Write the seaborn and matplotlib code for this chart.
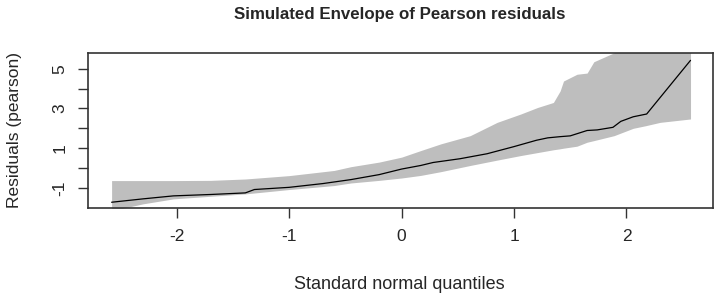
import numpy as np
import pandas as pd
import seaborn as sns
import matplotlib.pyplot as plt

# observed Pearson residuals (sorted) against normal quantiles
line_q = [-2.58, -2.30, -2.03, -1.70, -1.39, -1.31, -1.00, -0.70, -0.45, -0.20,
          0.00, 0.17, 0.28, 0.52, 0.76, 1.00, 1.20, 1.30, 1.41, 1.50, 1.65, 1.74,
          1.88, 1.95, 2.06, 2.18, 2.57]
resid = [-1.72, -1.55, -1.40, -1.33, -1.25, -1.08, -0.97, -0.78, -0.58, -0.33,
         -0.05, 0.13, 0.28, 0.47, 0.72, 1.08, 1.40, 1.52, 1.58, 1.62, 1.89, 1.92,
         2.05, 2.35, 2.58, 2.72, 5.42]

# simulated envelope
band_q = [-2.58, -2.30, -2.03, -1.70, -1.39, -1.00, -0.60, -0.45, -0.20, 0.00,
          0.17, 0.35, 0.61, 0.85, 1.06, 1.21, 1.35, 1.41, 1.44, 1.56, 1.65,
          1.71, 1.89, 2.06, 2.17, 2.30, 2.57]
upper = [-0.63, -0.63, -0.63, -0.62, -0.55, -0.38, -0.12, 0.07, 0.30, 0.55,
         0.88, 1.22, 1.63, 2.30, 2.72, 3.05, 3.30, 3.88, 4.38, 4.72, 4.78,
         5.35, 5.80, 6.60, 7.20, 8.00, 9.00]
lower = [-2.15, -1.80, -1.55, -1.42, -1.30, -1.08, -0.88, -0.75, -0.62, -0.50,
         -0.37, -0.18, 0.13, 0.40, 0.63, 0.78, 0.92, 0.97, 1.00, 1.10, 1.30,
         1.38, 1.63, 2.00, 2.13, 2.30, 2.47]

sns.set_style("ticks")
plt.rcParams['font.family'] = ['Liberation Sans', 'DejaVu Sans']

fig = plt.figure(figsize=(7.17, 2.99), dpi=100)
ax = fig.add_axes([88 / 717, 1 - 208 / 299, (713 - 88) / 717, (208 - 53) / 299])

ax.fill_between(band_q, lower, upper, color='#bebebe', linewidth=0)
df = pd.DataFrame({'q': line_q, 'r': resid})
sns.lineplot(data=df, x='q', y='r', ax=ax, color='black', linewidth=0.9, sort=False)

ax.set_xlim(-2.79, 2.77)
ax.set_ylim(-2.01, 5.79)
ax.set_xticks([-2, -1, 0, 1, 2])
ax.set_xticklabels(['-2', '-1', '0', '1', '2'])
yt = [-1, 0, 1, 2, 3, 4, 5]
ax.set_yticks(yt)
ax.set_yticklabels([str(v) if v % 2 else '' for v in yt], rotation=90, va='center')

for s in ax.spines.values():
    s.set_visible(True)
    s.set_color('#333333')
    s.set_linewidth(1.2)
ax.tick_params(axis='both', length=7, width=1.0, color='#333333', labelsize=12.5, pad=8)

ax.set_xlabel('')
ax.set_ylabel('')
fig.text(0.5575, 0.95, 'Simulated Envelope of Pearson residuals', ha='center', va='center',
         fontsize=12.2, fontweight='bold')
fig.text(0.5575, 0.047, 'Standard normal quantiles', ha='center', va='center', fontsize=13)
fig.text(0.02, 1 - 130 / 299, 'Residuals (pearson)', ha='center', va='center',
         rotation=90, fontsize=12.5)

fig.savefig('out.png', dpi=100)
